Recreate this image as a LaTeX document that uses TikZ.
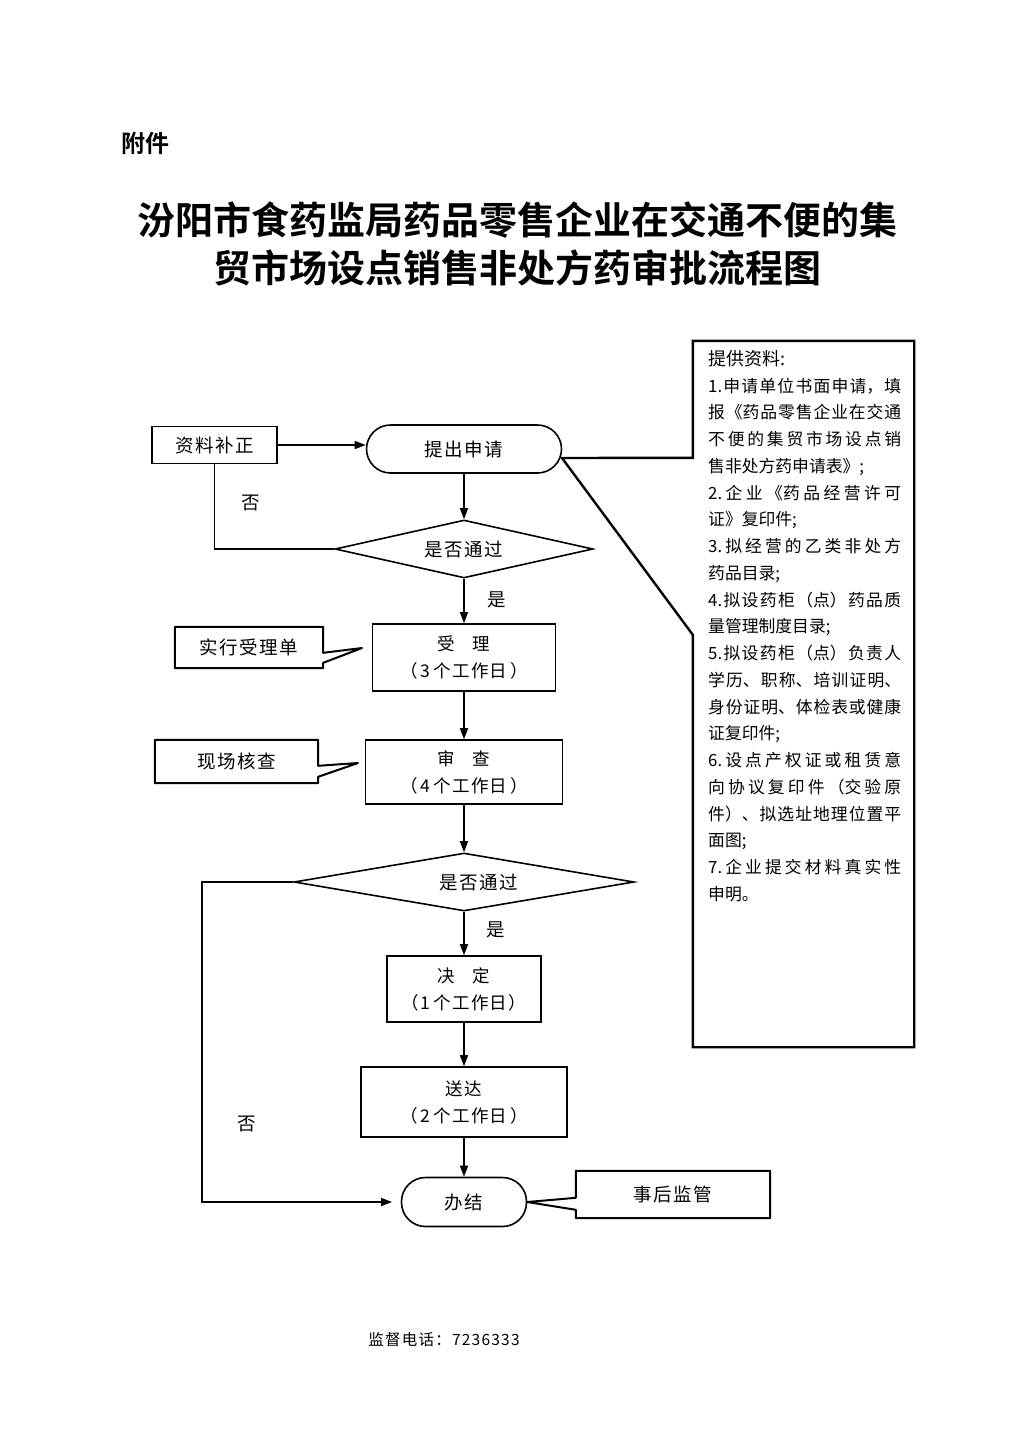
\documentclass[tikz,border=0pt]{standalone}
\usepackage{fontspec}
\setmainfont{Noto Sans CJK SC}[BoldFont={* Bold}]
\newfontfamily\lsf{Noto Sans CJK SC}[LetterSpace=8]
\usetikzlibrary{shapes.geometric,arrows.meta,calc}
\XeTeXlinebreaklocale "zh"
\XeTeXlinebreakskip=0pt plus 2pt
\newcommand{\fsz}[2]{\fontsize{#1pt}{#2pt}\selectfont}
\begin{document}
\begin{tikzpicture}[x=1pt,y=-1pt,
  lab/.style={font={\lsf\fsz{18.5}{22}}, inner sep=0pt},
  bx/.style={draw, line width=1.6pt, inner sep=0pt, align=center, font={\lsf\fsz{17.5}{27}}},
  stad/.style={draw, line width=1.6pt, rounded corners=24pt, inner sep=0pt, font={\lsf\fsz{18.5}{22}}},
  dia/.style={draw, diamond, aspect=4, line width=1.6pt, inner sep=0pt, font={\lsf\fsz{18.5}{22}}},
  cbx/.style={line width=2pt, line join=round},
  ln/.style={line width=1.5pt},
  arr/.style={ln, -{Triangle[length=11pt,width=8pt]}}]
\useasboundingbox[fill=white] (0,0) rectangle (1024,1448);

% titles
\node[font={\bfseries\fsz{24}{28}}, inner sep=0pt] (fj) at (145,143) {附件};
\node[font={\bfseries\fsz{38}{48}}, align=center, inner sep=0pt] (title) at (517,244)
  {汾阳市食药监局药品零售企业在交通不便的集\\贸市场设点销售非处方药审批流程图};

% main flow
\node[bx, minimum width=125pt, minimum height=37pt, font={\lsf\fsz{18.5}{22}}] (zlbz) at (214.5,445) {资料补正};
\node[stad, minimum width=195pt, minimum height=48pt] (ticu) at (464,449) {提出申请};
\node[dia, minimum width=258pt, minimum height=58pt] (d1) at (464,549) {是否通过};
\node[bx, minimum width=183pt, minimum height=67pt] (shouli) at (464,657.5) {受\quad 理\\（\,3\,个工作日\,）};
\node[bx, minimum width=197pt, minimum height=64pt] (shencha) at (464,772) {审\quad 查\\（\,4\,个工作日\,）};
\node[dia, minimum width=340pt, minimum height=58pt] (d2) at (464,882) {\hspace*{30pt}是否通过};
\node[bx, minimum width=154pt, minimum height=66pt] (jueding) at (464,989) {决\quad 定\\（1\,个工作日）};
\node[bx, minimum width=206pt, minimum height=70pt] (songda) at (464,1102) {送达\\（\,2\,个工作日\,）};
\node[stad, minimum width=125pt, minimum height=49pt] (banjie) at (464,1202) {办结};

% callouts
\node[lab, minimum width=148pt, minimum height=41pt] (cb1) at (249,647.5) {实行受理单};
\node[lab, minimum width=163pt, minimum height=43pt] (cb2) at (236.5,761.5) {现场核查};
\node[lab, minimum width=194pt, minimum height=47pt] (shjg) at (673,1194.5) {事后监管};
\node[minimum width=221pt, minimum height=706pt, inner sep=0pt] (tgzl) at (803.5,694) {};
\node[anchor=north west, text width=193pt, align=justify, inner sep=0pt, font={\fsz{16.8}{26.75}}] (tgtxt) at (708,350)
{\tolerance=10000 {\fsz{18}{26.75}提供资料:}\\
1.申请单位书面申请，填\linebreak
报《药品零售企业在交通\linebreak
不便的集贸市场设点销\linebreak
售非处方药申请表》;\\
2.企业《药品经营许可\linebreak
证》复印件;\\
3.拟经营的乙类非处方\linebreak
药品目录;\\
4.拟设药柜（点）药品质\linebreak
量管理制度目录;\\
5.拟设药柜（点）负责人\linebreak
学历、职称、培训证明、\linebreak
身份证明、体检表或健康\linebreak
证复印件;\\
6.设点产权证或租赁意\linebreak
向协议复印件（交验原\linebreak
件）、拟选址地理位置平\linebreak
面图;\\
7.企业提交材料真实性\linebreak
申明。};

% labels
\node[lab] (no1) at (251,503) {否};
\node[lab] (yes1) at (497,600) {是};
\node[lab] (yes2) at (496,930) {是};
\node[lab] (no2) at (247,1124) {否};
\node[font={\lsf\fsz{15.5}{18}}, inner sep=0pt] (tel) at (444,1340) {监督电话：7236333};

% connectors
\draw[arr] (zlbz.east) -- (zlbz.east -| ticu.west);
\draw[arr] (ticu.south) -- (d1.north);
\draw[ln] (d1.west) -| (zlbz.south);
\draw[arr] (d1.south) -- (shouli.north);
\draw[arr] (shouli.south) -- (shencha.north);
\draw[arr] (shencha.south) -- (d2.north);
\draw[arr] (d2.south) -- (jueding.north);
\draw[arr] (jueding.south) -- (songda.north);
\draw[arr] (songda.south) -- (banjie.north);
\coordinate (lc1) at (202,882);
\coordinate (lc2) at (202,1202);
\coordinate (bjin) at (392,1202);
\draw[arr] (d2.west) -- (lc1) -- (lc2) -- (bjin);

% callout outlines
\coordinate (cb1tip) at (362,648);
\coordinate (cb2tip) at (358,763);
\coordinate (tgtip) at (562,458);
\draw[cbx] (cb1.north west) -- (cb1.north east) -- ($(cb1.north east)+(0,26)$) -- (cb1tip)
  -- ($(cb1.north east)+(0,36)$) -- (cb1.south east) -- (cb1.south west) -- cycle;
\draw[cbx] (cb2.north west) -- (cb2.north east) -- ($(cb2.north east)+(0,26)$) -- (cb2tip)
  -- ($(cb2.north east)+(0,37)$) -- (cb2.south east) -- (cb2.south west) -- cycle;
\draw[cbx] (shjg.north west) -- (shjg.north east) -- (shjg.south east) -- (shjg.south west)
  -- ($(shjg.north west)+(0,39)$) -- (banjie.east) -- ($(shjg.north west)+(0,27)$) -- cycle;
\draw[line width=2.4pt, line join=miter] (tgzl.north west) -- (tgzl.north east) -- (tgzl.south east) -- (tgzl.south west)
  -- ($(tgzl.north west)+(0,294)$) -- (tgtip) -- ($(tgzl.north west)+(0,117)$) -- cycle;
\end{tikzpicture}
\end{document}
